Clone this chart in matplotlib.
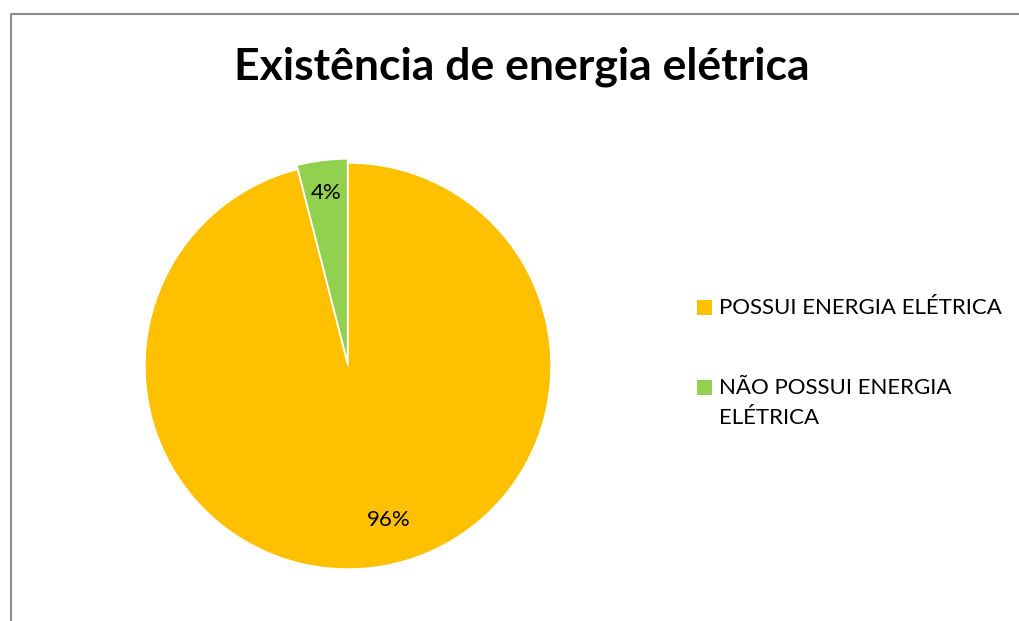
import matplotlib.pyplot as plt
from matplotlib.patches import Rectangle
from matplotlib.lines import Line2D

plt.rcParams['font.family'] = ['Lato', 'DejaVu Sans']

labels = ['POSSUI ENERGIA ELÉTRICA', 'NÃO POSSUI ENERGIA\nELÉTRICA']
shares = [96, 4]
colors = ['#FFC000', '#92D050']

W, H = 1020, 621
fig = plt.figure(figsize=(W / 100, H / 100), dpi=100)

# pie axes: centre ~ (348, 366) px, radius ~ 203 px
r_px = 203
cx, cy = 348, H - 366
span = 2.5 * r_px
ax = fig.add_axes([(cx - span / 2) / W, (cy - span / 2) / H, span / W, span / H])

wedges, texts, autotexts = ax.pie(
    shares, colors=colors, startangle=90, counterclock=False,
    explode=[0, 0.02], autopct='%1.0f%%', pctdistance=0.84,
    wedgeprops=dict(edgecolor='white', linewidth=1),
    textprops=dict(fontsize=16, color='black'))
ax.set_xlim(-1.25, 1.25)
ax.set_ylim(-1.25, 1.25)
ax.set_aspect('equal')
autotexts[0].set_position((0.2, -0.76))

fig.text(522, H - 67, 'Existência de energia elétrica', transform=None,
         ha='center', va='center', fontsize=32, fontweight='bold')

# legend drawn by hand so the marker sits on the first text line
leg_x, leg_y = 697, [307, 387]
for lab, col, y in zip(labels, colors, leg_y):
    fig.add_artist(Rectangle((leg_x, H - y - 7.5), 15, 15, transform=None,
                             facecolor=col, edgecolor='none'))
    fig.text(leg_x + 22, H - y + 9, lab, transform=None, ha='left', va='top',
             fontsize=16, linespacing=1.6)

# chart area outline (left and top edges)
fig.add_artist(Line2D([11 / W, 11 / W, 1], [0, (H - 14) / H, (H - 14) / H],
                      color='#8c8c8c', linewidth=1.5))

fig.savefig('out.png', dpi=100)
